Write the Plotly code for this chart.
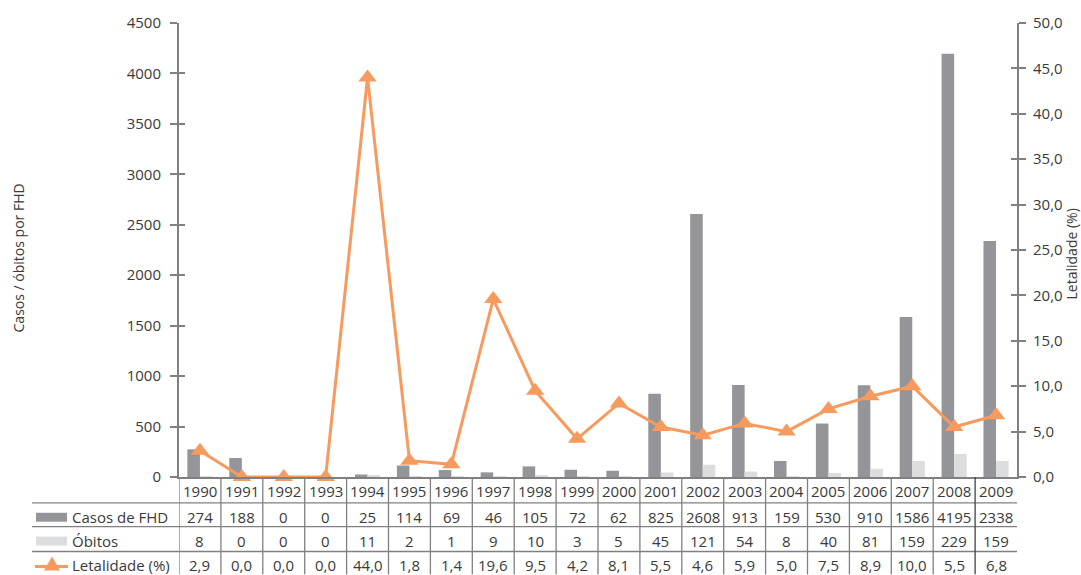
import plotly.graph_objects as go

# Dengue hemorrhagic fever (FHD): cases, deaths and case fatality per year
years = list(range(1990, 2010))
casos = [274, 188, 0, 0, 25, 114, 69, 46, 105, 72, 62, 825, 2608, 913, 159, 530, 910, 1586, 4195, 2338]
obitos = [8, 0, 0, 0, 11, 2, 1, 9, 10, 3, 5, 45, 121, 54, 8, 40, 81, 159, 229, 159]
letalidade = [2.9, 0.0, 0.0, 0.0, 44.0, 1.8, 1.4, 19.6, 9.5, 4.2, 8.1, 5.5, 4.6, 5.9, 5.0, 7.5, 8.9, 10.0, 5.5, 6.8]

left_ticks = [0, 500, 1000, 1500, 2000, 2500, 3000, 3500, 4000, 4500]
right_ticks = [0, 5, 10, 15, 20, 25, 30, 35, 40, 45, 50]
right_labels = [f"{v:.1f}".replace(".", ",") for v in right_ticks]
row_names = ["Casos de FHD", "Óbitos", "Letalidade (%)"]

C_CASOS = "#939598"
C_OBITOS = "#dcddde"
C_LINE = "#f79a5e"
C_TEXT = "#3a3a3a"
C_AXIS = "#808080"
FONT = "Open Sans"
FS = 15

W, H = 1081, 575
L, R, T, B = 179, 1017, 20, 477
plot_w, plot_h = R - L, B - T


def px(xp):
    return (xp - L) / plot_w


def py(yp):
    return (B - yp) / plot_h


fig = go.Figure()
fig.add_trace(go.Bar(x=years, y=casos, name=row_names[0], marker_color=C_CASOS,
                     marker_line_width=0, yaxis="y"))
fig.add_trace(go.Bar(x=years, y=obitos, name=row_names[1], marker_color=C_OBITOS,
                     marker_line_width=0, yaxis="y"))
fig.add_trace(go.Scatter(x=years, y=letalidade, name=row_names[2], yaxis="y2",
                         mode="lines+markers", cliponaxis=False,
                         line=dict(color=C_LINE, width=3),
                         marker=dict(symbol="triangle-up", size=16, color=C_LINE)))
# empty traces that carry the overlay axes used for the inner half of the ticks
fig.add_trace(go.Scatter(x=[], y=[], yaxis="y3", showlegend=False))
fig.add_trace(go.Scatter(x=[], y=[], yaxis="y4", showlegend=False))

# data table under the plot
row_y = [517, 541, 566]
header_y = 491
cell_font = dict(size=FS, color=C_TEXT, family=FONT)
annotations = []
for i, yr in enumerate(years):
    annotations.append(dict(x=yr, y=py(header_y), xref="x", yref="paper", text=str(yr),
                            showarrow=False, xanchor="center", yanchor="middle",
                            font=cell_font))
    vals = [str(casos[i]), str(obitos[i]), f"{letalidade[i]:.1f}".replace(".", ",")]
    for v, ry in zip(vals, row_y):
        annotations.append(dict(x=yr, y=py(ry), xref="x", yref="paper", text=v,
                                showarrow=False, xanchor="center", yanchor="middle",
                                font=cell_font))
for name, ry in zip(row_names, row_y):
    annotations.append(dict(x=px(70), y=py(ry), xref="paper", yref="paper", text=name,
                            showarrow=False, xanchor="left", yanchor="middle",
                            font=cell_font))

# axis titles
annotations.append(dict(x=px(18), y=py(257), xref="paper", yref="paper",
                        text="Casos / óbitos por FHD", textangle=-90, showarrow=False,
                        xanchor="center", yanchor="middle",
                        font=dict(size=14, color=C_TEXT, family=FONT)))
annotations.append(dict(x=px(1071), y=py(253), xref="paper", yref="paper",
                        text="Letalidade (%)", textangle=-90, showarrow=False,
                        xanchor="center", yanchor="middle",
                        font=dict(size=14, color=C_TEXT, family=FONT)))

shapes = []
# horizontal rules of the table
for hy in [503, 527, 552]:
    shapes.append(dict(type="line", xref="paper", yref="paper", x0=px(32), x1=1,
                       y0=py(hy), y1=py(hy), line=dict(color=C_AXIS, width=1.3)))
# column separators
for k in range(len(years)):
    xb = years[0] - 0.5 + k
    col = "#404040" if k == len(years) - 1 else C_AXIS
    shapes.append(dict(type="line", xref="x", yref="paper", x0=xb, x1=xb,
                       y0=0, y1=py(575), line=dict(color=col, width=1.3)))
# legend keys inside the table
shapes.append(dict(type="rect", xref="paper", yref="paper", x0=px(36), x1=px(67),
                   y0=py(522), y1=py(513), fillcolor=C_CASOS, line=dict(width=0)))
shapes.append(dict(type="rect", xref="paper", yref="paper", x0=px(36), x1=px(67),
                   y0=py(546), y1=py(537), fillcolor=C_OBITOS, line=dict(width=0)))
shapes.append(dict(type="line", xref="paper", yref="paper", x0=px(35), x1=px(68),
                   y0=py(567), y1=py(567), line=dict(color=C_LINE, width=3)))
tri = (f"M {px(44)} {py(571)} L {px(60)} {py(571)} L {px(52)} {py(557)} Z")
shapes.append(dict(type="path", xref="paper", yref="paper", path=tri,
                   fillcolor=C_LINE, line=dict(width=0)))

fig.update_layout(
    width=W, height=H,
    margin=dict(l=L, r=W - R, t=T, b=H - B, pad=0),
    paper_bgcolor="white", plot_bgcolor="white",
    barmode="group", bargap=0.4, bargroupgap=0,
    showlegend=False,
    font=dict(family=FONT, size=FS, color=C_TEXT),
    xaxis=dict(range=[years[0] - 0.5, years[-1] + 0.5], showticklabels=False,
               showgrid=False, zeroline=False, showline=True, linecolor=C_AXIS,
               linewidth=1.5, ticks=""),
    yaxis=dict(range=[0, 4500], tickvals=left_ticks, ticktext=[str(v) for v in left_ticks],
               showgrid=False, zeroline=False, showline=True, linecolor=C_AXIS,
               linewidth=2, ticks="outside", ticklen=7, tickcolor=C_AXIS, tickwidth=1.5,
               ticklabelstandoff=6,
               tickfont=dict(size=FS, color=C_TEXT, family=FONT)),
    yaxis2=dict(range=[0, 50], overlaying="y", side="right", tickvals=right_ticks,
                ticktext=right_labels, showgrid=False, zeroline=False, showline=True,
                linecolor=C_AXIS, linewidth=2, ticks="outside", ticklen=7,
                tickcolor=C_AXIS, tickwidth=1.5, ticklabelstandoff=4,
                tickfont=dict(size=FS, color=C_TEXT, family=FONT)),
    yaxis3=dict(range=[0, 4500], overlaying="y", side="left", tickvals=left_ticks,
                showticklabels=False, showgrid=False, zeroline=False, showline=False,
                ticks="inside", ticklen=6, tickcolor=C_AXIS, tickwidth=1.5),
    yaxis4=dict(range=[0, 50], overlaying="y", side="right", tickvals=right_ticks,
                showticklabels=False, showgrid=False, zeroline=False, showline=False,
                ticks="inside", ticklen=6, tickcolor=C_AXIS, tickwidth=1.5),
    annotations=annotations,
    shapes=shapes,
)

fig.write_html("out.html")
